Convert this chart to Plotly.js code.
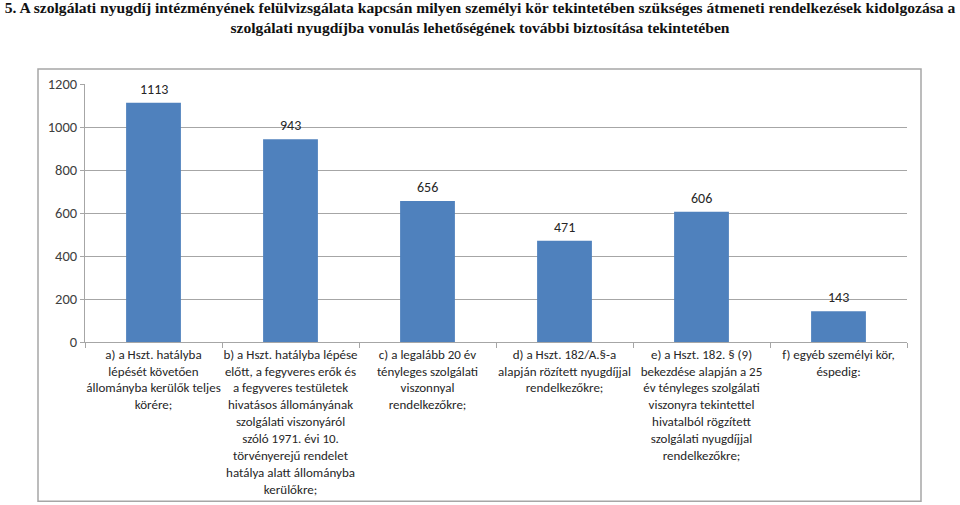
<!DOCTYPE html>
<html>
<head>
<meta charset="utf-8">
<script src="https://cdn.plot.ly/plotly-3.0.1.min.js"></script>
<style>html,body{margin:0;padding:0;background:#fff;}#chart{width:960px;height:505px;}</style>
</head>
<body>
<div id="chart"></div>
<script>
const categories = [
  "a) a Hszt. hatályba<br>lépését követően<br>állományba kerülők teljes<br>körére;",
  "b) a Hszt. hatályba lépése<br>előtt, a fegyveres erők és<br>a fegyveres testületek<br>hivatásos állományának<br>szolgálati viszonyáról<br>szóló 1971. évi 10.<br>törvényerejű rendelet<br>hatálya alatt állományba<br>kerülőkre;",
  "c) a legalább 20 év<br>tényleges szolgálati<br>viszonnyal<br>rendelkezőkre;",
  "d) a Hszt. 182/A.§-a<br>alapján rözített nyugdíjjal<br>rendelkezőkre;",
  "e) a Hszt. 182. § (9)<br>bekezdése alapján a 25<br>év tényleges szolgálati<br>viszonyra tekintettel<br>hivatalból rögzített<br>szolgálati nyugdíjjal<br>rendelkezőkre;",
  "f) egyéb személyi kör,<br>éspedig:"
];
const values = [1113, 943, 656, 471, 606, 143];
const yTicks = [0, 200, 400, 600, 800, 1000, 1200];
const titleText = "5. A szolgálati nyugdíj intézményének felülvizsgálata kapcsán milyen személyi kör tekintetében szükséges átmeneti rendelkezések kidolgozása a<br>szolgálati nyugdíjba vonulás lehetőségének további biztosítása tekintetében";

const FONT = "Carlito, Calibri, Lato, sans-serif";

const trace = {
  type: "bar",
  x: categories,
  y: values,
  marker: {color: "#4f81bd"},
  width: 0.4,
  hoverinfo: "x+y"
};

const annotations = categories.map((c, i) => ({
  x: c, y: values[i], xref: "x", yref: "y",
  text: String(values[i]), showarrow: false,
  yanchor: "bottom", yshift: 3,
  font: {family: FONT, size: 14, color: "#262626"}
}));

const layout = {
  width: 960, height: 505,
  paper_bgcolor: "#fff", plot_bgcolor: "#fff",
  margin: {l: 85, r: 53, t: 84, b: 162.5},
  showlegend: false,
  title: {
    text: "<b>" + titleText + "</b>",
    font: {family: "Liberation Serif, Times New Roman, serif", size: 15.6, color: "#111"},
    x: 0.5, xanchor: "center", xref: "container",
    y: 0.975, yanchor: "middle", yref: "container"
  },
  xaxis: {
    type: "category",
    showline: true, linecolor: "#a6a6a6", linewidth: 1,
    ticks: "outside", tickson: "boundaries", ticklen: 5, tickcolor: "#a6a6a6",
    tickfont: {family: FONT, size: 13, color: "#262626"},
    tickangle: 0, automargin: false
  },
  yaxis: {
    range: [0, 1200], tickvals: yTicks, ticktext: yTicks.map(String),
    showline: true, linecolor: "#a6a6a6", linewidth: 1,
    ticks: "outside", ticklen: 4, tickcolor: "#a6a6a6",
    showgrid: true, gridcolor: "#a6a6a6", gridwidth: 1,
    zeroline: false,
    tickfont: {family: FONT, size: 14.5, color: "#404040"},
    automargin: false
  },
  annotations: annotations,
  shapes: [{
    type: "rect", xref: "paper", yref: "paper",
    x0: (38 - 85) / 822, x1: (921 - 85) / 822,
    y0: (342.5 - 502) / 258.5, y1: (342.5 - 69) / 258.5,
    line: {color: "#a6a6a6", width: 1.5}, fillcolor: "rgba(0,0,0,0)", layer: "below"
  }]
};

Plotly.newPlot("chart", [trace], layout, {displayModeBar: false, staticPlot: true});
</script>
</body>
</html>
